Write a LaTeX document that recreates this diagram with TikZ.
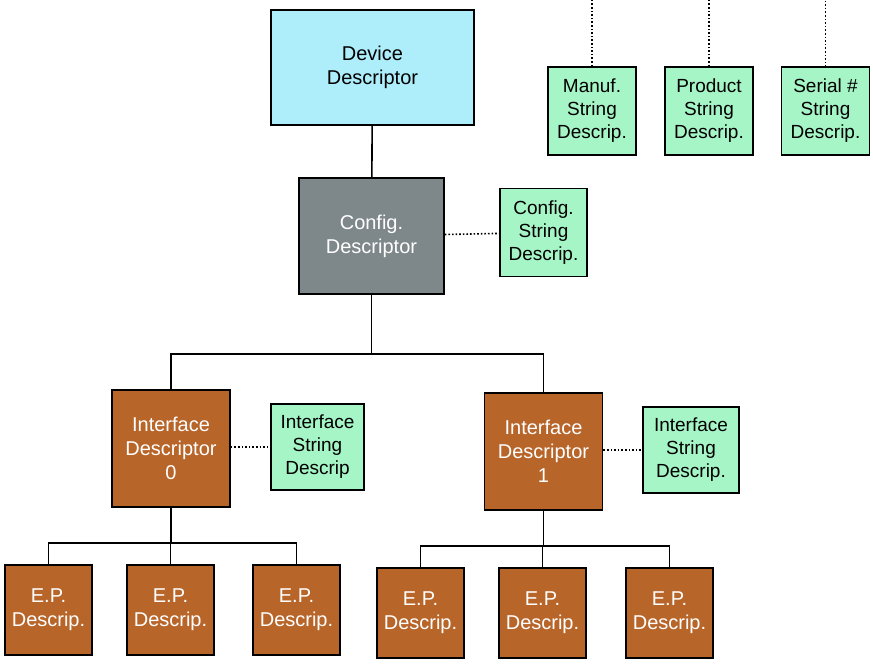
\documentclass[tikz,border=0pt]{standalone}
\usepackage{fontspec}
\setmainfont{Liberation Sans}
\definecolor{devblue}{HTML}{AEEEFB}
\definecolor{strgreen}{HTML}{A6F5C6}
\definecolor{cfggray}{HTML}{7E878A}
\definecolor{ifbrown}{HTML}{B8652A}
\begin{document}
\begin{tikzpicture}[x=1pt,y=-1pt,thick,
  box/.style={draw,line width=1.6pt,inner sep=0pt,align=center,font=\fontsize{20}{24}\selectfont},
  dev node/.style={box,fill=devblue,minimum width=203,minimum height=115},
  cfg node/.style={box,fill=cfggray,text=white,minimum width=145,minimum height=116},
  if node/.style={box,fill=ifbrown,text=white,minimum width=118,minimum height=117},
  ep node/.style={box,fill=ifbrown,text=white,minimum width=87,minimum height=90},
  str node/.style={box,fill=strgreen,minimum width=88,minimum height=88,font=\fontsize{19}{23}\selectfont},
  link/.style={line width=1.6pt},
  dots/.style={line width=1.6pt,dotted}]
  \useasboundingbox (0,0) rectangle (873,665);
  \node[dev node] (dev) at (372.5,67.5) {Device\\Descriptor};
  \node[str node] (manuf) at (592,111) {Manuf.\\String\\Descrip.};
  \node[str node] (prod) at (709,111) {Product\\String\\Descrip.};
  \node[str node] (serial) at (825.5,111) {Serial \#\\String\\Descrip.};
  \node[cfg node] (cfg) at (371.5,236) {Config.\\Descriptor};
  \node[str node,minimum width=87] (cfgstr) at (543.5,232.5) {Config.\\String\\Descrip.};
  \node[if node] (if0) at (171,448.5) {Interface\\Descriptor\\0};
  \node[str node,minimum width=93,minimum height=86] (ifstr0) at (317.5,447) {Interface\\String\\Descrip};
  \node[if node] (if1) at (543.5,451.5) {Interface\\Descriptor\\1};
  \node[str node,minimum width=96,minimum height=86] (ifstr1) at (691,450) {Interface\\String\\Descrip.};
  \node[ep node] (ep1) at (48.5,610) {E.P.\\Descrip.};
  \node[ep node] (ep2) at (170.5,610) {E.P.\\Descrip.};
  \node[ep node] (ep3) at (296.5,610) {E.P.\\Descrip.};
  \node[ep node] (ep4) at (420.5,613) {E.P.\\Descrip.};
  \node[ep node] (ep5) at (542.5,613) {E.P.\\Descrip.};
  \node[ep node] (ep6) at (669.5,613) {E.P.\\Descrip.};

  % tree
  \draw[link] (dev) -- (cfg);
  \draw[link] (cfg.south) -- ++(0,59) -| (if0.north);
  \draw[link] (cfg.south) -- ++(0,59) -| (if1.north);
  \foreach \e in {ep1,ep2,ep3}
    \draw[link] (if0.south) -- ++(0,35) -| (\e.north);
  \foreach \e in {ep4,ep5,ep6}
    \draw[link] (if1.south) -- ++(0,35) -| (\e.north);

  % strings
  \coordinate (top) at ([yshift=18]dev.north east);
  \draw[dots] (top) -| (serial.north);
  \foreach \s in {manuf,prod}
    \draw[dots] (\s.north) -- (\s.north |- top);
  \draw[dots] (cfg) -- (cfgstr);
  \draw[dots] (if0.east |- ifstr0) -- (ifstr0);
  \draw[dots] (if1.east |- ifstr1) -- (ifstr1);
\end{tikzpicture}
\end{document}
